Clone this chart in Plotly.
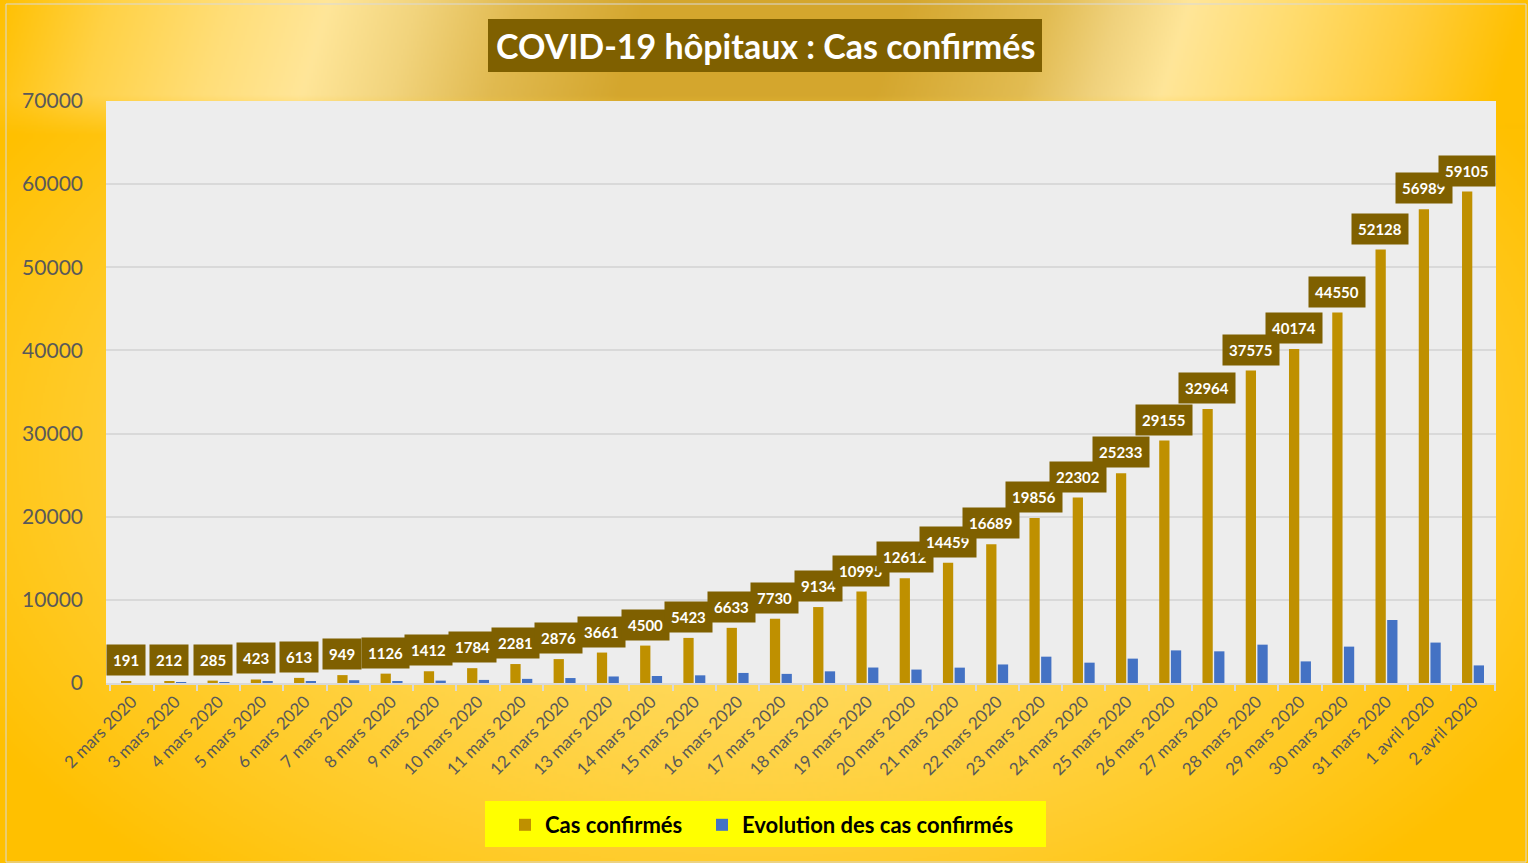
import numpy as np
import zlib, struct, base64
import plotly.graph_objects as go

# ---------------- data ----------------
dates = ["2 mars 2020", "3 mars 2020", "4 mars 2020", "5 mars 2020", "6 mars 2020",
         "7 mars 2020", "8 mars 2020", "9 mars 2020", "10 mars 2020", "11 mars 2020",
         "12 mars 2020", "13 mars 2020", "14 mars 2020", "15 mars 2020", "16 mars 2020",
         "17 mars 2020", "18 mars 2020", "19 mars 2020", "20 mars 2020", "21 mars 2020",
         "22 mars 2020", "23 mars 2020", "24 mars 2020", "25 mars 2020", "26 mars 2020",
         "27 mars 2020", "28 mars 2020", "29 mars 2020", "30 mars 2020", "31 mars 2020",
         "1 avril 2020", "2 avril 2020"]
cas_confirmes = [191, 212, 285, 423, 613, 949, 1126, 1412, 1784, 2281, 2876, 3661,
                 4500, 5423, 6633, 7730, 9134, 10995, 12612, 14459, 16689, 19856,
                 22302, 25233, 29155, 32964, 37575, 40174, 44550, 52128, 56989, 59105]
evolution = [0, 21, 73, 138, 190, 336, 177, 286, 372, 497, 595, 785,
             839, 923, 1210, 1097, 1404, 1861, 1617, 1847, 2230, 3167,
             2446, 2931, 3922, 3809, 4611, 2599, 4376, 7578, 4861, 2116]
y_ticks = [0, 10000, 20000, 30000, 40000, 50000, 60000, 70000]

# ---------------- geometry ----------------
FW, FH = 1528, 863
L, R, T, B = 106, 1496, 101, 683
PW, PH = R - L, B - T


def pxx(p):
    return (p - L) / PW


def pxy(p):
    return (B - p) / PH


# ---------------- background gradient image ----------------
def make_png(arr):
    h, w, _ = arr.shape
    raw = b"".join(b"\x00" + arr[i].tobytes() for i in range(h))

    def chunk(tag, data):
        c = struct.pack(">I", len(data)) + tag + data
        return c + struct.pack(">I", zlib.crc32(tag + data) & 0xFFFFFFFF)

    png = b"\x89PNG\r\n\x1a\n"
    png += chunk(b"IHDR", struct.pack(">IIBBBBB", w, h, 8, 2, 0, 0, 0))
    png += chunk(b"IDAT", zlib.compress(raw, 9))
    png += chunk(b"IEND", b"")
    return "data:image/png;base64," + base64.b64encode(png).decode()


GH, GW = 432, 764
xs = (np.arange(GW) + 0.5) * FW / GW
ys = (np.arange(GH) + 0.5) * FH / GH
X, Y = np.meshgrid(xs, ys)

gold = np.array([255, 192, 0], float)
light = np.array([255, 222, 110], float)
d = np.sqrt(((X - 764) / 820) ** 2 + ((Y - 450) / 520) ** 2)
t = np.clip((d - 0.15) / 0.95, 0, 1) ** 1.4
base = light[None, None, :] * (1 - t[..., None]) + gold[None, None, :] * t[..., None]

kx = [0, 110, 230, 330, 420, 520, 650, 900, 1050, 1120, 1190, 1300, 1420, 1528]
kc = [(255, 192, 0), (255, 210, 70), (255, 222, 120), (255, 230, 153), (242, 212, 125),
      (225, 186, 80), (212, 166, 45), (212, 166, 45), (226, 188, 82), (240, 210, 125),
      (255, 230, 153), (255, 220, 110), (255, 205, 60), (255, 192, 0)]
kc = np.array(kc, float)
Xs = np.clip(X + 0.3 * Y, 0, FW)
band = np.stack([np.interp(Xs, kx, kc[:, i]) for i in range(3)], axis=-1)
w = np.clip((135 - Y) / 40, 0, 1)[..., None]
img = base * (1 - w) + band * w
img = np.clip(img, 0, 255).astype(np.uint8)
bg_uri = make_png(img)

# ---------------- figure ----------------
GOLD = "#BF9000"
BLUE = "#4472C4"
DARK = "#7F6000"
FONT = "Lato"

fig = go.Figure()
fig.add_trace(go.Bar(x=dates, y=cas_confirmes, name="Cas confirmés",
                     legend="legend",
                     marker=dict(color=GOLD, line=dict(width=0))))
fig.add_trace(go.Bar(x=dates, y=evolution, name="Evolution des cas confirmés",
                     legend="legend2",
                     marker=dict(color=BLUE, line=dict(width=0))))

annotations = []
for dt, v in zip(dates, cas_confirmes):
    annotations.append(dict(
        x=dt, y=v, xref="x", yref="y", text=str(v), showarrow=False,
        xanchor="center", yanchor="bottom", xshift=-6, yshift=5,
        bgcolor=DARK, borderpad=6,
        font=dict(family=FONT, size=15, color="white", weight="bold")))

# title
annotations.append(dict(
    x=pxx(765), y=pxy(46), xref="paper", yref="paper",
    text="COVID-19 hôpitaux : Cas confirmés", showarrow=False,
    xanchor="center", yanchor="middle",
    font=dict(family=FONT, size=34, color="white", weight="bold")))

shapes = [
    # plot area background
    dict(type="rect", xref="paper", yref="paper", layer="below",
         x0=0, x1=1, y0=0, y1=1,
         line=dict(width=0), fillcolor="#EDEDED"),
    # outer border
    dict(type="rect", xref="paper", yref="paper", layer="below",
         x0=pxx(6), x1=pxx(1526), y0=pxy(862), y1=pxy(4),
         line=dict(color="#D9D9D9", width=1), fillcolor="rgba(0,0,0,0)"),
    # title box
    dict(type="rect", xref="paper", yref="paper", layer="above",
         x0=pxx(488), x1=pxx(1042), y0=pxy(72), y1=pxy(19),
         line=dict(width=0), fillcolor=DARK),
    # legend box
    dict(type="rect", xref="paper", yref="paper", layer="above",
         x0=pxx(485), x1=pxx(1046), y0=pxy(847), y1=pxy(801),
         line=dict(width=0), fillcolor="#FFFF00"),
]

legend_common = dict(orientation="h", xanchor="left", yanchor="middle",
                     bgcolor="rgba(0,0,0,0)",
                     font=dict(family=FONT, size=22, color="black", weight="bold"),
                     itemclick=False, itemdoubleclick=False)

fig.update_layout(
    width=FW, height=FH,
    margin=dict(l=L, r=FW - R, t=T, b=FH - B, pad=0),
    paper_bgcolor="#FFC000",
    plot_bgcolor="rgba(0,0,0,0)",
    barmode="group", bargap=0.46, bargroupgap=0.12,
    showlegend=True,
    legend=dict(x=pxx(505), y=pxy(825), **legend_common),
    legend2=dict(x=pxx(702), y=pxy(825), **legend_common),
    annotations=annotations,
    shapes=shapes,
    images=[dict(source=bg_uri, xref="paper", yref="paper",
                 x=pxx(0), y=pxy(0), sizex=FW / PW, sizey=FH / PH,
                 xanchor="left", yanchor="top", sizing="stretch", layer="below")],
    xaxis=dict(type="category", tickangle=-45, showgrid=False,
               showline=True, linecolor="#D9D9D9", linewidth=2,
               ticks="outside", tickson="boundaries", ticklen=6,
               tickcolor="#D9D9D9", tickwidth=1.5,
               tickfont=dict(family=FONT, size=17, color="#595959"),
               fixedrange=True),
    yaxis=dict(range=[0, 70000], tickvals=y_ticks,
               ticktext=[str(v) for v in y_ticks],
               showgrid=True, gridcolor="#D9D9D9", gridwidth=2,
               zeroline=False, showline=False, ticks="",
               ticklabelstandoff=22,
               tickfont=dict(family=FONT, size=21, color="#595959"),
               fixedrange=True),
    hovermode=False,
)

fig.write_html("out.html", config={"displayModeBar": False},
               post_script="document.body.style.margin='0';")
